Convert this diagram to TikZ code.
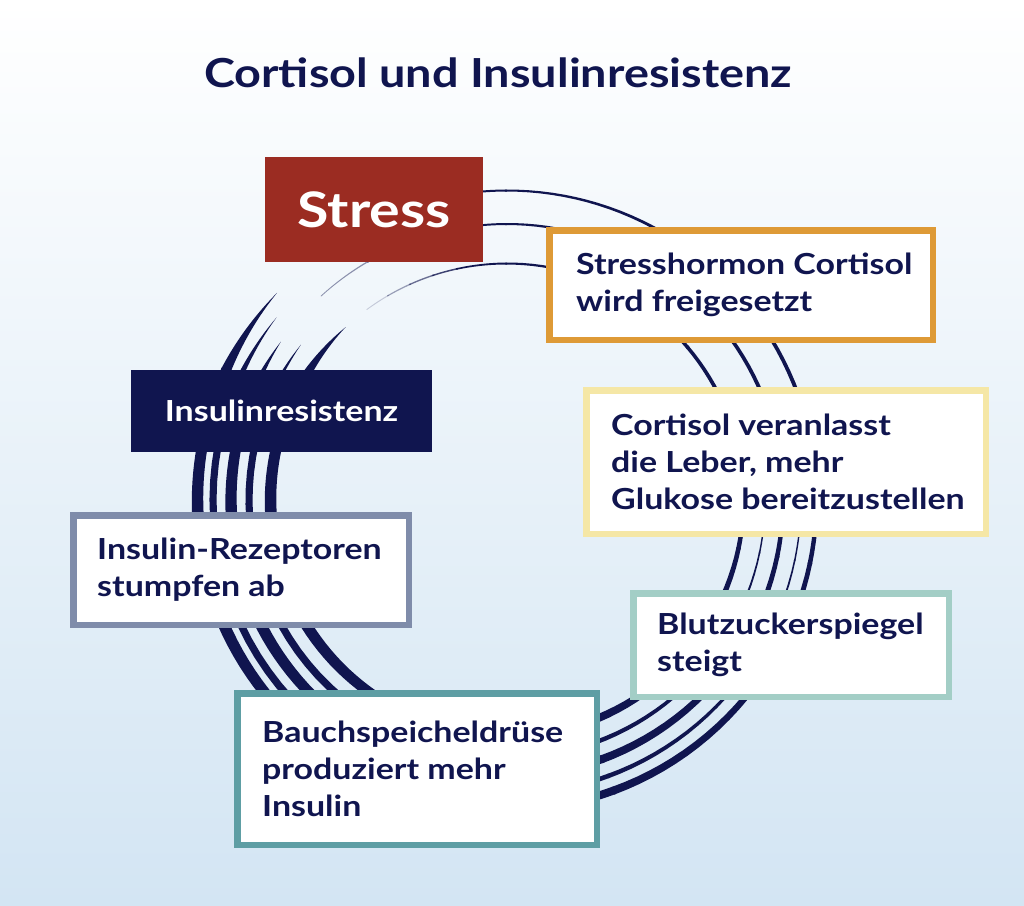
\documentclass[tikz,border=0pt]{standalone}
\usepackage{fontspec}
\setmainfont{Lato}[FakeStretch=1.17]
\definecolor{navy}{RGB}{16,21,79}
\definecolor{stressred}{RGB}{155,44,34}
\definecolor{corange}{RGB}{222,154,54}
\definecolor{cyellow}{RGB}{245,231,166}
\definecolor{lteal}{RGB}{163,206,198}
\definecolor{dteal}{RGB}{94,158,164}
\definecolor{grayblue}{RGB}{127,140,170}
\definecolor{bgbot}{RGB}{211,229,243}
\definecolor{bgmid}{RGB}{228,239,248}
\newcommand\ringseg[5]{%
  \fill plot[variable=\s, domain=0:1, samples=24]
    ({507+(#1+0.5*(#4+(#5-#4)*\s))*cos(#2+(#3+0.4-#2)*\s)},
     {500-(#1+0.5*(#4+(#5-#4)*\s))*sin(#2+(#3+0.4-#2)*\s)})
  -- plot[variable=\s, domain=0:1, samples=24]
    ({507+(#1-0.5*(#5+(#4-#5)*\s))*cos(#3+0.4+(#2-#3-0.4)*\s)},
     {500-(#1-0.5*(#5+(#4-#5)*\s))*sin(#3+0.4+(#2-#3-0.4)*\s)})
  -- cycle;}
\tikzset{
  boxframe/.style={draw=#1, line width=6.5pt, fill=white, inner sep=0pt, outer sep=0pt},
  boxtext/.style={anchor=west, align=left, inner sep=0pt, text=navy,
    font=\fontsize{29}{37}\selectfont\bfseries},
}
\begin{document}
\begin{tikzpicture}[x=1pt,y=-1pt]
\useasboundingbox (0,0) rectangle (1024,905);
\shade[top color=white, middle color=bgmid, bottom color=bgbot] (0,0) rectangle (1024,905);
% title
\node[text=navy, font=\fontsize{40}{48}\selectfont\bfseries] (title) at (498,73) {Cortisol und Insulinresistenz};
% rings
\begin{scope}[navy]
% odd rings common profile
\foreach \R/\T in {309.5/138, 276/145, 236.5/133}{
  \pgfmathsetmacro\Tb{\T+17}
  \ringseg{\R}{\T}{\Tb}{0}{10}
  \ringseg{\R}{\Tb}{190}{10}{12}
  \ringseg{\R}{190}{240}{12}{10}
  \ringseg{\R}{240}{290}{10}{8}
  \ringseg{\R}{290}{348}{8}{4.5}
  \ringseg{\R}{348}{400}{4.5}{3.5}
  \ringseg{\R}{400}{450}{3.5}{2}
}
\ringseg{309.5}{450}{470}{2}{2}
\ringseg{276}{450}{480}{2}{1.6}
\ringseg{236.5}{450}{462}{2}{1.6}
% even rings
\foreach \R/\T in {294/141.6, 258/143}{
  \pgfmathsetmacro\Tb{\T+17}
  \ringseg{\R}{\T}{\Tb}{0}{7}
  \ringseg{\R}{\Tb}{240}{7}{7.5}
  \ringseg{\R}{240}{290}{7.5}{4.5}
  \ringseg{\R}{290}{348}{4.5}{1.5}
  \ringseg{\R}{348}{372}{1.5}{1}
}
\end{scope}
% faint parts
\begin{scope}[navy]
\begin{scope}[opacity=0.45]\ringseg{276}{480}{492}{1.3}{0.8}\end{scope}
\begin{scope}[opacity=0.8]\ringseg{236.5}{462}{468}{1.5}{1.4}\end{scope}
\begin{scope}[opacity=0.6]\ringseg{236.5}{468}{474}{1.4}{1.3}\end{scope}
\begin{scope}[opacity=0.4]\ringseg{236.5}{474}{480}{1.3}{1.1}\end{scope}
\begin{scope}[opacity=0.2]\ringseg{236.5}{480}{486}{1.1}{0.8}\end{scope}
\end{scope}
% boxes
\node[fill=stressred, minimum width=218pt, minimum height=105pt, inner sep=0pt] (stress) at (374,209.5) {};
\node[text=white, font=\fontsize{49}{58}\selectfont\bfseries] (stresst) at (stress.center) {Stress};
\node[boxframe=corange, minimum width=383.5pt, minimum height=109.5pt] (cort) at (741,285) {};
\node[boxtext] (cortt) at (576,285) {Stresshormon Cortisol\\wird freigesetzt};
\node[boxframe=cyellow, minimum width=399.5pt, minimum height=143.5pt] (leber) at (786,462) {};
\node[boxtext] (lebert) at (611,462) {Cortisol veranlasst\\die Leber, mehr\\Glukose bereitzustellen};
\node[boxframe=lteal, minimum width=315.5pt, minimum height=103.5pt] (blut) at (791,645) {};
\node[boxtext] (blutt) at (657,645) {Blutzuckerspiegel\\steigt};
\node[boxframe=dteal, minimum width=359.5pt, minimum height=151.5pt] (bauch) at (417,769) {};
\node[boxtext] (baucht) at (262,769) {Bauchspeicheldrüse\\produziert mehr\\Insulin};
\node[boxframe=grayblue, minimum width=335.5pt, minimum height=109.5pt] (rezep) at (241,570) {};
\node[boxtext] (rezept) at (97,570) {Insulin-Rezeptoren\\stumpfen ab};
\node[fill=navy, minimum width=301pt, minimum height=82pt, inner sep=0pt] (insul) at (281.5,411) {};
\node[text=white, font=\fontsize{29}{34}\selectfont\bfseries] (insult) at (insul.center) {Insulinresistenz};
\end{tikzpicture}
\end{document}
